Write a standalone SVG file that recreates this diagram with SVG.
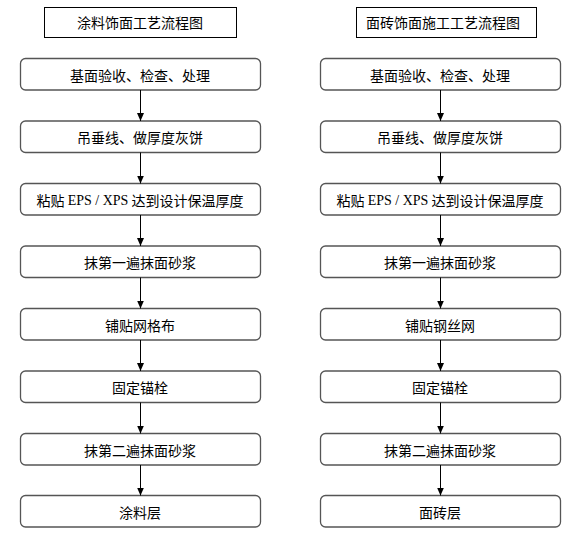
<svg xmlns="http://www.w3.org/2000/svg" width="581" height="542" viewBox="0 0 581 542">
<defs>
<style>
.title rect{fill:#fff;stroke:#000;stroke-width:1}
.node rect{fill:#fff;stroke:#555;stroke-width:1.3}
text{font-family:"Noto Sans CJK SC","Liberation Sans",sans-serif;font-size:14px;fill:#000;text-anchor:middle;dominant-baseline:central}
.lat{font-family:"Liberation Serif",serif}
#connectors line{stroke:#000;stroke-width:1;marker-end:url(#arr)}
</style>
<marker id="arr" viewBox="0 0 8 8" refX="8" refY="4" markerWidth="8" markerHeight="8" markerUnits="userSpaceOnUse" orient="auto">
<path d="M0,0.5 L8,4 L0,7.5 Z" fill="#000"/>
</marker>
</defs>
<rect width="581" height="542" fill="#fff"/>
<g id="title-left" class="title"><rect x="44.5" y="7.5" width="192" height="30"/><text x="140" y="22">涂料饰面工艺流程图</text></g>
<g id="title-right" class="title"><rect x="356.5" y="7.5" width="180" height="30"/><text x="443" y="22">面砖饰面施工工艺流程图</text></g>

<g id="L1" class="node"><rect x="20.5" y="58.5" width="240" height="31.5" rx="5"/><text x="140" y="74.5">基面验收、检查、处理</text></g>
<g id="L2" class="node"><rect x="20.5" y="121" width="240" height="31.5" rx="5"/><text x="140" y="137">吊垂线、做厚度灰饼</text></g>
<g id="L3" class="node"><rect x="20.5" y="183.5" width="240" height="31.5" rx="5"/><text x="140" y="199.5">粘贴 <tspan class="lat">EPS / XPS</tspan> 达到设计保温厚度</text></g>
<g id="L4" class="node"><rect x="20.5" y="246" width="240" height="31.5" rx="5"/><text x="140" y="262">抹第一遍抹面砂浆</text></g>
<g id="L5" class="node"><rect x="20.5" y="308.5" width="240" height="31.5" rx="5"/><text x="140" y="324.5">铺贴网格布</text></g>
<g id="L6" class="node"><rect x="20.5" y="371" width="240" height="31.5" rx="5"/><text x="140" y="387">固定锚栓</text></g>
<g id="L7" class="node"><rect x="20.5" y="433.5" width="240" height="31.5" rx="5"/><text x="140" y="449.5">抹第二遍抹面砂浆</text></g>
<g id="L8" class="node"><rect x="20.5" y="495.5" width="240" height="31.5" rx="5"/><text x="140" y="511.5">涂料层</text></g>

<g id="R1" class="node"><rect x="320.5" y="58.5" width="240" height="31.5" rx="5"/><text x="440" y="74.5">基面验收、检查、处理</text></g>
<g id="R2" class="node"><rect x="320.5" y="121" width="240" height="31.5" rx="5"/><text x="440" y="137">吊垂线、做厚度灰饼</text></g>
<g id="R3" class="node"><rect x="320.5" y="183.5" width="240" height="31.5" rx="5"/><text x="440" y="199.5">粘贴 <tspan class="lat">EPS / XPS</tspan> 达到设计保温厚度</text></g>
<g id="R4" class="node"><rect x="320.5" y="246" width="240" height="31.5" rx="5"/><text x="440" y="262">抹第一遍抹面砂浆</text></g>
<g id="R5" class="node"><rect x="320.5" y="308.5" width="240" height="31.5" rx="5"/><text x="440" y="324.5">铺贴钢丝网</text></g>
<g id="R6" class="node"><rect x="320.5" y="371" width="240" height="31.5" rx="5"/><text x="440" y="387">固定锚栓</text></g>
<g id="R7" class="node"><rect x="320.5" y="433.5" width="240" height="31.5" rx="5"/><text x="440" y="449.5">抹第二遍抹面砂浆</text></g>
<g id="R8" class="node"><rect x="320.5" y="495.5" width="240" height="31.5" rx="5"/><text x="440" y="511.5">面砖层</text></g>

<g id="connectors">
<line x1="140.5" y1="90" x2="140.5" y2="121"/>
<line x1="140.5" y1="152.5" x2="140.5" y2="183.5"/>
<line x1="140.5" y1="215" x2="140.5" y2="246"/>
<line x1="140.5" y1="277.5" x2="140.5" y2="308.5"/>
<line x1="140.5" y1="340" x2="140.5" y2="371"/>
<line x1="140.5" y1="402.5" x2="140.5" y2="433.5"/>
<line x1="140.5" y1="465" x2="140.5" y2="495.5"/>
<line x1="440.5" y1="90" x2="440.5" y2="121"/>
<line x1="440.5" y1="152.5" x2="440.5" y2="183.5"/>
<line x1="440.5" y1="215" x2="440.5" y2="246"/>
<line x1="440.5" y1="277.5" x2="440.5" y2="308.5"/>
<line x1="440.5" y1="340" x2="440.5" y2="371"/>
<line x1="440.5" y1="402.5" x2="440.5" y2="433.5"/>
<line x1="440.5" y1="465" x2="440.5" y2="495.5"/>
</g>
</svg>
